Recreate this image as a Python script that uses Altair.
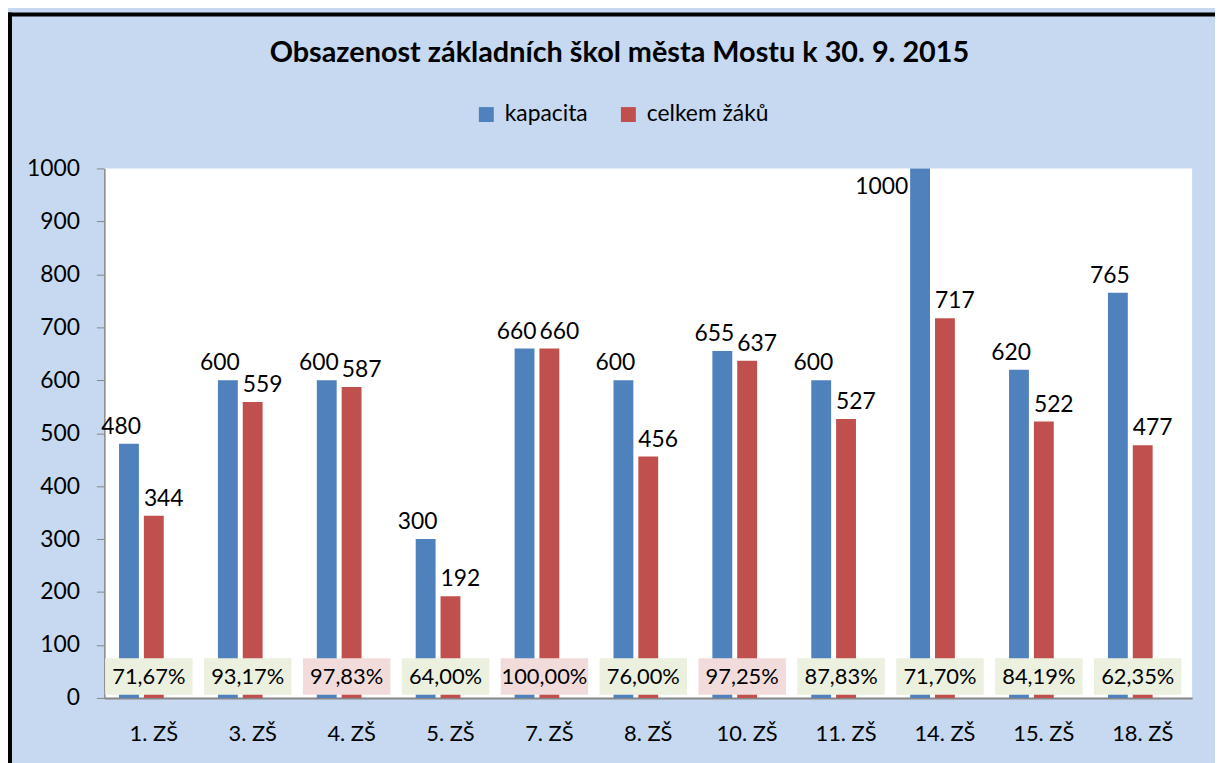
import altair as alt
import pandas as pd

# ---- data ----
schools = ["1. ZŠ", "3. ZŠ", "4. ZŠ", "5. ZŠ", "7. ZŠ", "8. ZŠ",
           "10. ZŠ", "11. ZŠ", "14. ZŠ", "15. ZŠ", "18. ZŠ"]
kapacita = [480, 600, 600, 300, 660, 600, 655, 600, 1000, 620, 765]
celkem_zaku = [344, 559, 587, 192, 660, 456, 637, 527, 717, 522, 477]
series_names = ["kapacita", "celkem žáků"]
y_ticks = [0, 100, 200, 300, 400, 500, 600, 700, 800, 900, 1000]

# ---- tables built from the arrays ----
rows = []
for s, k, c in zip(schools, kapacita, celkem_zaku):
    rows.append({"school": s, "series": series_names[0], "value": k})
    rows.append({"school": s, "series": series_names[1], "value": c})
bars_df = pd.DataFrame(rows)

pct_rows = []
for s, k, c in zip(schools, kapacita, celkem_zaku):
    p = c / k * 100
    pct_rows.append({
        "school": s,
        "label": f"{p:.2f}".replace(".", ",") + "%",
        "level": "high" if p > 95 else "normal",
    })
pct_df = pd.DataFrame(pct_rows)

FONT = "Lato"
BLUE = "#4F81BD"
RED = "#C0504D"
BG = "#C6D9F0"
GREY = "#868686"

x_enc = alt.X(
    "school:N", sort=schools,
    scale=alt.Scale(paddingInner=0.2466, paddingOuter=0.1233),
    axis=alt.Axis(title=None, labelAngle=0, ticks=False, labelFont=FONT,
                  labelFontSize=22, labelColor="black", labelPadding=26,
                  domainColor=GREY, domainWidth=2),
)
xoff_enc = alt.XOffset(
    "series:N",
    scale=alt.Scale(domain=series_names + ["_"], paddingInner=0.2, paddingOuter=0.1),
)
y_scale = alt.Scale(domain=[0, 1000], nice=False)
y_enc = alt.Y(
    "value:Q", scale=y_scale,
    axis=alt.Axis(title=None, values=y_ticks, format="d", grid=False, labelFont=FONT,
                  labelFontSize=23, labelColor="black", labelPadding=17,
                  tickSize=8, tickColor=GREY, domainColor=GREY, domainWidth=1.5),
)

base = alt.Chart(bars_df)

bars = base.mark_bar().encode(
    x=x_enc,
    xOffset=xoff_enc,
    y=y_enc,
    color=alt.Color(
        "series:N",
        scale=alt.Scale(domain=series_names, range=[BLUE, RED]),
        legend=alt.Legend(
            title=None, orient="none", direction="horizontal",
            legendX=373, legendY=-66, symbolType="square", symbolSize=225,
            symbolStrokeWidth=0, labelFont=FONT, labelFontSize=23,
            labelColor="black", labelOffset=7, columnPadding=29, padding=0,
        ),
    ),
)

boxes = alt.Chart(pct_df).mark_bar(width=88, xOffset=-5).encode(
    x=alt.X("school:N", sort=schools),
    y=alt.datum(6, scale=y_scale),
    y2=alt.datum(75),
    fill=alt.Fill("level:N",
                  scale=alt.Scale(domain=["normal", "high"], range=["#EBF0DF", "#F2DCDB"]),
                  legend=None),
)

box_text = alt.Chart(pct_df).mark_text(
    font=FONT, fontSize=22, color="black", baseline="middle", dx=-5
).encode(
    x=alt.X("school:N", sort=schools),
    y=alt.datum(40),
    text="label:N",
)

lbl_blue = base.transform_filter(
    (alt.datum.series == series_names[0]) & (alt.datum.value < 1000)
).mark_text(font=FONT, fontSize=23, color="black", baseline="alphabetic",
            dx=-8, dy=-10).encode(
    x=alt.X("school:N", sort=schools), xOffset=xoff_enc, y="value:Q", text="value:Q"
)

lbl_top = base.transform_filter(
    (alt.datum.series == series_names[0]) & (alt.datum.value >= 1000)
).mark_text(font=FONT, fontSize=23, color="black", baseline="alphabetic",
            align="right", dx=-12, dy=26).encode(
    x=alt.X("school:N", sort=schools), xOffset=xoff_enc, y="value:Q", text="value:Q"
)

lbl_red = base.transform_filter(
    alt.datum.series == series_names[1]
).mark_text(font=FONT, fontSize=23, color="black", baseline="alphabetic",
            dx=10, dy=-10).encode(
    x=alt.X("school:N", sort=schools), xOffset=xoff_enc, y="value:Q", text="value:Q"
)

one = pd.DataFrame({"k": [0]})
border_left = alt.Chart(one).mark_rule(color="black", strokeWidth=4).encode(
    x=alt.value(-95), y=alt.value(-157), y2=alt.value(700)
)
border_top = alt.Chart(one).mark_rule(color="black", strokeWidth=4).encode(
    x=alt.value(-97), x2=alt.value(1200), y=alt.value(-155)
)

chart = alt.layer(
    bars, boxes, box_text, lbl_blue, lbl_top, lbl_red, border_left, border_top
).properties(
    width=1095, height=533,
    title=alt.TitleParams(
        text="Obsazenost základních škol města Mostu k 30. 9. 2015",
        font=FONT, fontSize=29, fontWeight="bold", color="black",
        anchor="middle", frame="group", dx=-29, offset=-58,
    ),
    background=BG,
    padding={"left": 97, "top": 159, "right": 23, "bottom": 63},
    autosize=alt.AutoSizeParams(type="none"),
).configure_view(fill="white", stroke=None)

chart.save("out.html", embed_options={"renderer": "svg", "actions": False})
